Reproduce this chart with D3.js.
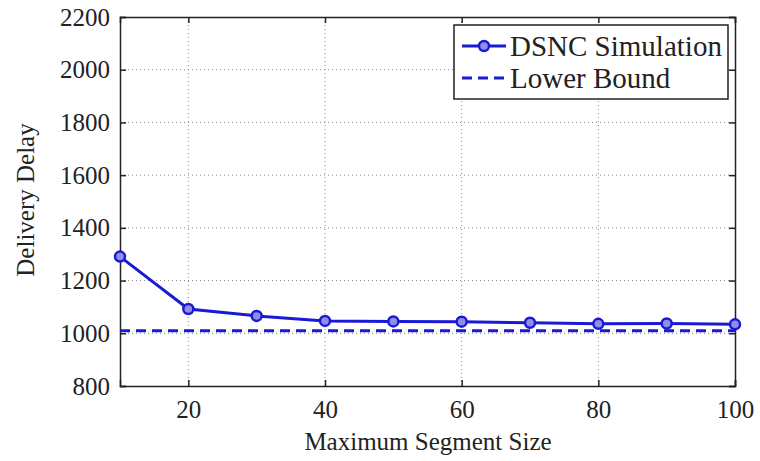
<!DOCTYPE html>
<html>
<head>
<meta charset="utf-8">
<script src="https://cdn.jsdelivr.net/npm/d3@7"></script>
</head>
<body style="margin:0">
<svg id="chart" width="760" height="461" font-family="Liberation Serif"></svg>
<script>
// data
let segmentSizes = [10, 20, 30, 40, 50, 60, 70, 80, 90, 100]
let simDelay = [1291, 1092, 1066, 1047, 1045, 1044, 1040, 1036, 1037, 1034]
let lowerBound = 1010
let xTicks = [20, 40, 60, 80, 100]
let yTicks = [800, 1000, 1200, 1400, 1600, 1800, 2000, 2200]

let fontName = 'Liberation Serif'

let margin = { top: 17, left: 120, right: 25, bottom: 75 }
let width = 760 - margin.left - margin.right
let height = 461 - margin.top - margin.bottom

let blue = '#1a1ad6'

let svg = d3.select('#chart')
  .append('g')
  .attr('transform', `translate(${margin.left},${margin.top})`)

let x = d3.scaleLinear().domain([10, 100]).range([0, width])
let y = d3.scaleLinear().domain([800, 2200]).range([height, 0])

// grid
svg.append('g')
  .selectAll('line')
  .data(xTicks.filter(d => d < 100))
  .enter()
  .append('line')
  .attr('x1', d => x(d)).attr('x2', d => x(d))
  .attr('y1', 0).attr('y2', height)
  .attr('stroke', '#888')
  .attr('stroke-width', 1)
  .attr('stroke-dasharray', '1 3')

svg.append('g')
  .selectAll('line')
  .data(yTicks.filter(d => d > 800 && d < 2200))
  .enter()
  .append('line')
  .attr('x1', 0).attr('x2', width)
  .attr('y1', d => y(d)).attr('y2', d => y(d))
  .attr('stroke', '#888')
  .attr('stroke-width', 1)
  .attr('stroke-dasharray', '1 3')

// axes, matlab style: ticks inside
let xAxis = d3.axisBottom(x).tickValues(xTicks).tickSize(-6).tickPadding(14).tickFormat(d3.format('d'))
svg.append('g')
  .attr('class', 'axis')
  .attr('transform', `translate(0,${height})`)
  .call(xAxis)

let yAxis = d3.axisLeft(y).tickValues(yTicks).tickSize(-6).tickPadding(10).tickFormat(d3.format('d'))
svg.append('g')
  .attr('class', 'axis')
  .call(yAxis)

svg.append('g')
  .attr('class', 'axis')
  .call(d3.axisTop(x).tickValues(xTicks).tickSize(-6).tickFormat(''))

svg.append('g')
  .attr('class', 'axis')
  .attr('transform', `translate(${width},0)`)
  .call(d3.axisRight(y).tickValues(yTicks).tickSize(-6).tickFormat(''))

svg.selectAll('.axis').attr('font-family', fontName)
svg.selectAll('.axis path, .axis line')
  .attr('stroke', '#222')
  .attr('stroke-width', 1.5)
svg.selectAll('.axis text')
  .attr('font-family', fontName)
  .style('font-family', fontName)
  .attr('font-size', 25)
  .attr('fill', '#222')

// lower bound
svg.append('line')
  .attr('x1', x(10)).attr('x2', x(100))
  .attr('y1', y(lowerBound)).attr('y2', y(lowerBound))
  .attr('stroke', blue)
  .attr('stroke-width', 3)
  .attr('stroke-dasharray', '10 6')

// simulation line
let line = d3.line()
  .x((d, i) => x(segmentSizes[i]))
  .y(d => y(d))

svg.append('path')
  .datum(simDelay)
  .attr('d', line)
  .attr('fill', 'none')
  .attr('stroke', blue)
  .attr('stroke-width', 3)

svg.selectAll('.dot')
  .data(simDelay)
  .enter()
  .append('circle')
  .attr('class', 'dot')
  .attr('cx', (d, i) => x(segmentSizes[i]))
  .attr('cy', d => y(d))
  .attr('r', 5)
  .attr('fill', '#8f8fe8')
  .attr('stroke', blue)
  .attr('stroke-width', 2.5)

// legend
let legend = svg.append('g')
  .attr('transform', `translate(${454 - margin.left},${25 - margin.top})`)

legend.append('rect')
  .attr('width', 274)
  .attr('height', 74)
  .attr('fill', '#fff')
  .attr('stroke', '#222')
  .attr('stroke-width', 1.5)

legend.append('line')
  .attr('x1', 8).attr('x2', 52)
  .attr('y1', 21).attr('y2', 21)
  .attr('stroke', blue)
  .attr('stroke-width', 3)

legend.append('circle')
  .attr('cx', 30).attr('cy', 21).attr('r', 5)
  .attr('fill', '#8f8fe8')
  .attr('stroke', blue)
  .attr('stroke-width', 2.5)

legend.append('line')
  .attr('x1', 8).attr('x2', 52)
  .attr('y1', 53).attr('y2', 53)
  .attr('stroke', blue)
  .attr('stroke-width', 3)
  .attr('stroke-dasharray', '10 6')

legend.append('text')
  .attr('x', 56).attr('y', 31)
  .attr('font-family', fontName)
  .attr('font-size', 29)
  .attr('fill', '#222')
  .text('DSNC Simulation')

legend.append('text')
  .attr('x', 56).attr('y', 63)
  .attr('font-family', fontName)
  .attr('font-size', 29)
  .attr('fill', '#222')
  .text('Lower Bound')

// axis titles
svg.append('text')
  .attr('x', (428 - margin.left))
  .attr('y', height + 64)
  .attr('text-anchor', 'middle')
  .attr('font-family', fontName)
  .attr('font-size', 25)
  .attr('fill', '#222')
  .text('Maximum Segment Size')

svg.append('text')
  .attr('transform', `translate(${-86},${200 - margin.top}) rotate(-90)`)
  .attr('text-anchor', 'middle')
  .attr('font-family', fontName)
  .attr('font-size', 25)
  .attr('fill', '#222')
  .text('Delivery Delay')
</script>
</body>
</html>
